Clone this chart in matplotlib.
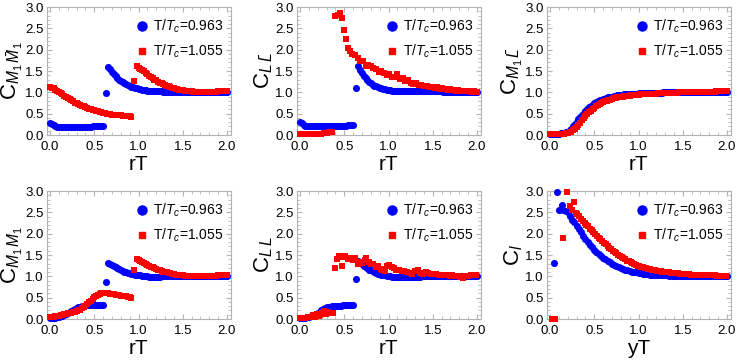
import matplotlib
matplotlib.use("Agg")
import matplotlib.pyplot as plt
from matplotlib.ticker import MultipleLocator
from matplotlib.lines import Line2D

plt.rcParams['font.family'] = ['Liberation Sans', 'DejaVu Sans']
plt.rcParams['mathtext.fontset'] = 'custom'
plt.rcParams['mathtext.rm'] = 'Liberation Sans'
plt.rcParams['mathtext.it'] = 'Liberation Sans:italic'
plt.rcParams['mathtext.bf'] = 'Liberation Sans:bold'

# ---------------- data ----------------
series_labels = ["T/$T_c$=0.963", "T/$T_c$=1.055"]

# shared sample grid of the T/Tc=0.963 data (rT)
rT_blue = [0.00, 0.02, 0.04, 0.06, 0.08, 0.10, 0.12, 0.14, 0.16, 0.18,
           0.20, 0.22, 0.24, 0.26, 0.28, 0.30, 0.32, 0.34, 0.36, 0.38,
           0.40, 0.42, 0.44, 0.46, 0.48, 0.50, 0.52, 0.54, 0.56, 0.58,
           0.60,
           0.63,
           0.66, 0.68, 0.70, 0.72, 0.74, 0.76, 0.78, 0.80, 0.82, 0.84,
           0.86, 0.88, 0.90, 0.92, 0.94, 0.96, 0.98, 1.00, 1.02, 1.04,
           1.06, 1.08, 1.10, 1.12, 1.14, 1.16, 1.18, 1.20, 1.22, 1.24,
           1.26,
           1.28, 1.30, 1.32, 1.34, 1.36, 1.38, 1.40, 1.42, 1.44, 1.46,
           1.48, 1.50, 1.52, 1.54, 1.56, 1.58, 1.60,
           1.62, 1.64, 1.66, 1.68, 1.70, 1.72, 1.74, 1.76, 1.78, 1.80,
           1.82, 1.84, 1.86, 1.88, 1.90, 1.92, 1.94, 1.96, 1.98, 2.00]

# shared sample grid of the dense T/Tc=1.055 data (rT)
rT_red = [0.00, 0.02, 0.04, 0.06, 0.08, 0.10, 0.12, 0.14, 0.16, 0.18,
          0.20, 0.22, 0.24, 0.26, 0.28, 0.30, 0.32, 0.34, 0.36, 0.38,
          0.40, 0.42, 0.44, 0.46, 0.48, 0.50, 0.52, 0.54, 0.56, 0.58,
          0.60, 0.62, 0.64, 0.66, 0.68, 0.70, 0.72, 0.74, 0.76, 0.78,
          0.80, 0.82, 0.84, 0.86, 0.88, 0.90, 0.92,
          0.95,
          0.98, 1.00, 1.02, 1.04, 1.06, 1.08, 1.10, 1.12, 1.14, 1.16,
          1.18, 1.20, 1.22, 1.24, 1.26, 1.28, 1.30, 1.32, 1.34, 1.36,
          1.38, 1.40, 1.42, 1.44, 1.46, 1.48, 1.50, 1.52, 1.54, 1.56,
          1.58, 1.60, 1.62, 1.64, 1.66, 1.68, 1.70, 1.72, 1.74, 1.76,
          1.78, 1.80, 1.82, 1.84, 1.86, 1.88, 1.90, 1.92, 1.94, 1.96,
          1.98, 2.00]

# Panel 1: C_{M1 M1bar}
c_m1m1bar_blue = [0.27, 0.25, 0.23, 0.21, 0.19, 0.18, 0.18, 0.18, 0.18, 0.18,
                  0.18, 0.18, 0.18, 0.18, 0.18, 0.18, 0.18, 0.18, 0.19, 0.19,
                  0.19, 0.19, 0.19, 0.19, 0.20, 0.20, 0.20, 0.20, 0.21, 0.21,
                  0.22,
                  0.98,
                  1.60, 1.54, 1.48, 1.43, 1.38, 1.34, 1.30, 1.27, 1.24, 1.21,
                  1.19, 1.17, 1.15, 1.13, 1.12, 1.10, 1.09, 1.08, 1.07, 1.06,
                  1.05, 1.05, 1.04, 1.04, 1.03, 1.03, 1.03, 1.02, 1.02, 1.02,
                  1.02,
                  1.01, 1.01, 1.01, 1.01, 1.01, 1.01, 1.01, 1.01, 1.01, 1.01,
                  1.01, 1.01, 1.01, 1.01, 1.01, 1.01, 1.01,
                  1.00, 1.00, 1.00, 1.00, 1.00, 1.00, 1.00, 1.00, 1.00, 1.00,
                  1.00, 1.00, 1.00, 1.00, 1.00, 1.00, 1.00, 1.00, 1.00, 1.00]
c_m1m1bar_red = [1.12, 1.11, 1.09, 1.06, 1.04, 1.01, 0.98, 0.95, 0.92, 0.89,
                 0.86, 0.84, 0.81, 0.79, 0.76, 0.74, 0.72, 0.70, 0.68, 0.67,
                 0.65, 0.63, 0.62, 0.60, 0.59, 0.58, 0.57, 0.56, 0.55, 0.53,
                 0.52, 0.51, 0.50, 0.50, 0.49, 0.48, 0.48, 0.47, 0.47, 0.46,
                 0.46, 0.45, 0.45, 0.44, 0.44, 0.44, 0.43,
                 1.27,
                 1.62, 1.58, 1.55, 1.52, 1.49, 1.45, 1.42, 1.39, 1.36, 1.33,
                 1.30, 1.28, 1.25, 1.23, 1.21, 1.19, 1.17, 1.15, 1.14, 1.12,
                 1.11, 1.10, 1.08, 1.07, 1.06, 1.05, 1.05, 1.04, 1.03, 1.03,
                 1.02, 1.02, 1.01, 1.01, 1.01, 1.00, 1.00, 1.00, 1.00, 1.00,
                 1.00, 1.00, 1.01, 1.01, 1.01, 1.01, 1.02, 1.02, 1.02, 1.03,
                 1.03, 1.03]

# Panel 2: C_{L Lbar}
c_llbar_blue = [0.30, 0.27, 0.24, 0.22, 0.21, 0.21, 0.21, 0.21, 0.21, 0.21,
                0.21, 0.21, 0.21, 0.21, 0.21, 0.21, 0.21, 0.21, 0.21, 0.22,
                0.22, 0.22, 0.22, 0.22, 0.22, 0.22, 0.22, 0.23, 0.23, 0.23,
                0.23,
                1.10,
                1.62, 1.53, 1.45, 1.39, 1.33, 1.29, 1.25, 1.21, 1.18, 1.16,
                1.14, 1.12, 1.10, 1.09, 1.08, 1.07, 1.06, 1.05, 1.05, 1.04,
                1.04, 1.03, 1.03, 1.03, 1.03, 1.03, 1.02, 1.02, 1.02, 1.02,
                1.02,
                1.02, 1.02, 1.02, 1.02, 1.02, 1.02, 1.02, 1.02, 1.02, 1.02,
                1.02, 1.02, 1.02, 1.02, 1.02, 1.02, 1.02,
                1.01, 1.01, 1.01, 1.01, 1.01, 1.01, 1.01, 1.01, 1.01, 1.01,
                1.00, 1.00, 1.00, 1.00, 1.00, 1.00, 1.00, 1.00, 1.00, 1.00]
rT_llbar_red = [0.00, 0.03, 0.06, 0.09, 0.12, 0.15, 0.18, 0.21, 0.24, 0.27,
                0.30, 0.33, 0.36,
                0.40, 0.43, 0.45, 0.47, 0.50, 0.52, 0.54, 0.57, 0.59, 0.62,
                0.65, 0.68, 0.71, 0.74, 0.77, 0.80, 0.83, 0.86, 0.89, 0.92,
                0.95, 0.98, 1.01, 1.04, 1.07, 1.10, 1.13, 1.16, 1.19, 1.22,
                1.25, 1.28, 1.31, 1.34, 1.37, 1.40, 1.43, 1.46, 1.49, 1.52,
                1.55, 1.58, 1.61, 1.64, 1.67, 1.70, 1.73, 1.76, 1.79, 1.82,
                1.85, 1.88, 1.91, 1.94, 1.97, 2.00]
c_llbar_red = [0.02, 0.02, 0.02, 0.02, 0.02, 0.02, 0.02, 0.03, 0.03, 0.04,
               0.04, 0.06, 0.07,
               2.80, 2.82, 2.85, 2.74, 2.45, 2.24, 2.05, 1.97, 1.90, 1.87,
               1.80, 1.74, 1.74, 1.62, 1.63, 1.62, 1.58, 1.55, 1.48, 1.50,
               1.45, 1.40, 1.44, 1.37, 1.35, 1.42, 1.31, 1.34, 1.26, 1.30,
               1.22, 1.20, 1.22, 1.17, 1.18, 1.15, 1.14, 1.12, 1.13, 1.10,
               1.12, 1.08, 1.10, 1.07, 1.06, 1.07, 1.05, 1.04, 1.05, 1.03,
               1.04, 1.02, 1.03, 1.01, 1.02, 1.01]

# Panel 3: C_{M1 Lbar}
c_m1lbar_blue = [0.02, 0.02, 0.03, 0.03, 0.03, 0.03, 0.04, 0.04, 0.05, 0.06,
                 0.08, 0.11, 0.15, 0.20, 0.25, 0.31, 0.37, 0.42, 0.47, 0.52,
                 0.57, 0.61, 0.65, 0.68, 0.71, 0.74, 0.77, 0.79, 0.81, 0.83,
                 0.84,
                 0.86,
                 0.88, 0.89, 0.90, 0.91, 0.92, 0.93, 0.93, 0.94, 0.94, 0.95,
                 0.95, 0.96, 0.96, 0.96, 0.97, 0.97, 0.97, 0.98, 0.98, 0.98,
                 0.98, 0.98, 0.99, 0.99, 0.99, 0.99, 0.99, 0.99, 0.99, 0.99,
                 0.99,
                 1.00, 1.00, 1.00, 1.00, 1.00, 1.00, 1.00, 1.00, 1.00, 1.00,
                 1.00, 1.00, 1.00, 1.00, 1.00, 1.00, 1.00,
                 1.00, 1.00, 1.00, 1.00, 1.00, 1.00, 1.00, 1.00, 1.00, 1.00,
                 1.00, 1.00, 1.00, 1.00, 1.00, 1.00, 1.00, 1.00, 1.00, 1.00]
c_m1lbar_red = [0.02, 0.02, 0.02, 0.02, 0.02, 0.03, 0.03, 0.03, 0.03, 0.04,
                0.05, 0.06, 0.08, 0.11, 0.15, 0.19, 0.24, 0.29, 0.34, 0.39,
                0.44, 0.49, 0.53, 0.57, 0.61, 0.64, 0.67, 0.70, 0.72, 0.75,
                0.77, 0.79, 0.80, 0.82, 0.83, 0.85, 0.86, 0.87, 0.88, 0.89,
                0.89, 0.90, 0.91, 0.91, 0.92, 0.92, 0.93,
                0.93,
                0.94, 0.94, 0.95, 0.95, 0.95, 0.96, 0.96, 0.96, 0.97, 0.97,
                0.97, 0.97, 0.98, 0.98, 0.98, 0.98, 0.98, 0.99, 0.99, 0.99,
                0.99, 0.99, 0.99, 0.99, 1.00, 1.00, 1.00, 1.00, 1.00, 1.00,
                1.00, 1.00, 1.00, 1.00, 1.00, 1.01, 1.01, 1.01, 1.01, 1.01,
                1.01, 1.01, 1.01, 1.01, 1.01, 1.02, 1.02, 1.02, 1.02, 1.02,
                1.02, 1.02]

# Panel 4: C_{M1 M1}
c_m1m1_blue = [0.03, 0.03, 0.03, 0.03, 0.04, 0.05, 0.06, 0.07, 0.09, 0.11,
               0.14, 0.16, 0.18, 0.21, 0.23, 0.25, 0.27, 0.29, 0.30, 0.31,
               0.32, 0.32, 0.33, 0.33, 0.33, 0.33, 0.33, 0.33, 0.33, 0.33,
               0.33,
               0.86,
               1.32, 1.30, 1.27, 1.24, 1.22, 1.20, 1.17, 1.15, 1.13, 1.11,
               1.10, 1.08, 1.07, 1.06, 1.05, 1.04, 1.03, 1.02, 1.02, 1.01,
               1.01, 1.00, 1.00, 0.99, 0.99, 0.99, 0.99, 0.99, 0.99, 0.99,
               1.00,
               1.00, 1.00, 1.00, 1.00, 1.00, 1.00, 1.00, 1.00, 1.00, 1.00,
               1.00, 1.00, 1.00, 1.00, 1.00, 1.00, 1.00,
               1.00, 1.00, 1.00, 1.00, 1.00, 1.00, 1.00, 1.00, 1.00, 1.00,
               1.00, 1.00, 1.00, 1.00, 1.00, 1.00, 1.00, 1.00, 1.00, 1.00]
c_m1m1_red = [0.04, 0.05, 0.05, 0.06, 0.07, 0.08, 0.09, 0.10, 0.11, 0.12,
              0.13, 0.14, 0.15, 0.16, 0.17, 0.18, 0.20, 0.22, 0.25, 0.28,
              0.31, 0.35, 0.39, 0.43, 0.47, 0.51, 0.54, 0.57, 0.59, 0.60,
              0.61, 0.61, 0.60, 0.60, 0.59, 0.58, 0.58, 0.57, 0.56, 0.56,
              0.55, 0.54, 0.53, 0.53, 0.52, 0.51, 0.50,
              1.15,
              1.40, 1.38, 1.36, 1.33, 1.31, 1.29, 1.27, 1.25, 1.23, 1.21,
              1.19, 1.17, 1.16, 1.14, 1.13, 1.11, 1.10, 1.09, 1.08, 1.07,
              1.06, 1.05, 1.04, 1.04, 1.03, 1.02, 1.02, 1.01, 1.01, 1.00,
              1.00, 1.00, 1.00, 1.00, 1.00, 1.00, 1.00, 1.00, 1.00, 1.00,
              1.00, 1.00, 1.01, 1.01, 1.01, 1.01, 1.02, 1.02, 1.02, 1.03,
              1.03, 1.03]

# Panel 5: C_{L L}
c_ll_blue = [0.02, 0.02, 0.02, 0.03, 0.04, 0.05, 0.06, 0.07, 0.09, 0.11,
             0.14, 0.17, 0.20, 0.23, 0.25, 0.27, 0.28, 0.29, 0.30, 0.30,
             0.31, 0.31, 0.31, 0.31, 0.32, 0.32, 0.32, 0.32, 0.32, 0.33,
             0.33,
             0.93,
             1.35, 1.32, 1.28, 1.25, 1.22, 1.19, 1.16, 1.14, 1.12, 1.10,
             1.08, 1.06, 1.05, 1.04, 1.03, 1.02, 1.01, 1.00, 1.00, 0.99,
             0.99, 0.98, 0.98, 0.98, 0.98, 0.98, 0.98, 0.99, 0.99, 0.99,
             0.99,
             0.99, 0.99, 0.99, 0.99, 0.99, 1.00, 1.00, 1.00, 1.00, 1.00,
             1.00, 1.00, 1.00, 1.00, 1.00, 1.00, 1.00,
             1.00, 1.00, 1.00, 1.00, 1.00, 1.00, 1.00, 1.00, 1.00, 1.00,
             1.00, 1.00, 1.00, 1.00, 1.00, 1.00, 1.00, 1.00, 1.00, 1.00]
rT_ll_red = [0.00, 0.03, 0.06, 0.09, 0.12, 0.15, 0.17, 0.19, 0.21, 0.23,
             0.25, 0.27, 0.29, 0.31, 0.33, 0.35, 0.37,
             0.39, 0.42, 0.44, 0.47, 0.49, 0.51, 0.54, 0.57, 0.60, 0.62,
             0.65, 0.68, 0.70, 0.73, 0.75, 0.78, 0.80, 0.83, 0.86, 0.88,
             0.91, 0.93, 0.96, 0.98, 1.01, 1.04, 1.06, 1.09, 1.12, 1.15,
             1.18, 1.21, 1.24, 1.27, 1.30, 1.33, 1.36, 1.39, 1.42, 1.45,
             1.48, 1.51, 1.54, 1.57, 1.60, 1.63, 1.66, 1.69, 1.72, 1.75,
             1.78, 1.81, 1.84, 1.87, 1.90, 1.93, 1.96, 1.99]
c_ll_red = [0.02, 0.02, 0.03, 0.04, 0.05, 0.10, 0.05, 0.12, 0.08, 0.10,
            0.15, 0.18, 0.12, 0.16, 0.13, 0.14, 0.15,
            1.20, 1.40, 1.48, 1.25, 1.45, 1.48, 1.40, 1.42, 1.38, 1.42,
            1.30, 1.33, 1.32, 1.38, 1.42, 1.33, 1.30, 1.28, 1.22, 1.24,
            1.18, 1.15, 1.12, 1.25, 1.27, 1.22, 1.20, 1.15, 1.14, 1.12,
            1.12, 1.10, 1.08, 1.06, 1.12, 1.16, 1.08, 1.05, 1.10, 1.08,
            1.06, 1.05, 1.06, 1.04, 1.02, 1.03, 1.03, 1.01, 1.02, 1.00,
            1.01, 0.99, 0.96, 1.00, 1.01, 1.02, 1.04, 1.03]

# Panel 6: C_l vs yT
yT_blue = [0.05, 0.08, 0.10, 0.13, 0.15, 0.175, 0.20, 0.225, 0.25, 0.275,
           0.30, 0.325, 0.35, 0.375, 0.40, 0.425, 0.45, 0.475, 0.50, 0.525,
           0.55, 0.575, 0.60, 0.625, 0.65, 0.675, 0.70, 0.725, 0.75, 0.775,
           0.80, 0.825, 0.85, 0.875, 0.90, 0.925, 0.95, 0.975, 1.00, 1.025,
           1.05, 1.075, 1.10, 1.125, 1.15, 1.175, 1.20, 1.225, 1.25, 1.275,
           1.30, 1.325, 1.35, 1.375, 1.40, 1.425, 1.45, 1.475, 1.50, 1.525,
           1.55, 1.575, 1.60, 1.625, 1.65, 1.675, 1.70, 1.725, 1.75, 1.775,
           1.80, 1.825, 1.85, 1.875, 1.90, 1.925, 1.95, 1.975, 2.00]
cl_blue = [1.32, 2.97, 2.55, 2.68, 2.55, 2.52, 2.50, 2.42, 2.33, 2.28,
           2.18, 2.12, 2.03, 1.95, 1.88, 1.81, 1.74, 1.68, 1.62, 1.57,
           1.52, 1.48, 1.43, 1.40, 1.36, 1.33, 1.30, 1.27, 1.24, 1.22,
           1.20, 1.18, 1.16, 1.14, 1.13, 1.11, 1.10, 1.09, 1.08, 1.07,
           1.06, 1.05, 1.05, 1.04, 1.04, 1.03, 1.03, 1.03, 1.02, 1.02,
           1.02, 1.02, 1.01, 1.01, 1.01, 1.01, 1.01, 1.01, 1.01, 1.01,
           1.01, 1.01, 1.01, 1.00, 1.00, 1.00, 1.00, 1.00, 1.00, 1.00,
           1.00, 1.00, 1.00, 1.00, 1.00, 1.00, 1.00, 1.00, 1.00]
yT_red = [0.02, 0.04, 0.06, 0.15, 0.19, 0.22, 0.25, 0.27, 0.29, 0.31,
          0.33, 0.35, 0.37, 0.39, 0.41, 0.43, 0.45, 0.47, 0.49, 0.51,
          0.53, 0.55, 0.57, 0.59, 0.61, 0.63, 0.65, 0.67, 0.69, 0.71,
          0.73, 0.75, 0.77, 0.79, 0.81, 0.83, 0.85, 0.87, 0.89, 0.91,
          0.93, 0.95, 0.97, 0.99, 1.01, 1.03, 1.05, 1.07, 1.09, 1.11,
          1.13, 1.15, 1.17, 1.19, 1.21, 1.23, 1.25, 1.27, 1.29, 1.31,
          1.33, 1.35, 1.37, 1.39, 1.41, 1.43, 1.45, 1.47, 1.49, 1.51,
          1.53, 1.55, 1.57, 1.59, 1.61, 1.63, 1.65, 1.67, 1.69, 1.71,
          1.73, 1.75, 1.77, 1.79, 1.81, 1.83, 1.85, 1.87, 1.89, 1.91,
          1.93, 1.95, 1.97, 1.99]
cl_red = [0.00, 0.00, 0.00, 1.90, 2.97, 2.65, 2.55, 2.75, 2.48, 2.47,
          2.42, 2.35, 2.30, 2.25, 2.21, 2.17, 2.12, 2.08, 2.03, 1.99,
          1.95, 1.91, 1.87, 1.83, 1.79, 1.75, 1.71, 1.67, 1.64, 1.60,
          1.57, 1.54, 1.51, 1.48, 1.45, 1.42, 1.40, 1.37, 1.35, 1.33,
          1.31, 1.29, 1.27, 1.25, 1.24, 1.22, 1.21, 1.20, 1.19, 1.18,
          1.17, 1.16, 1.15, 1.14, 1.13, 1.12, 1.12, 1.11, 1.10, 1.10,
          1.09, 1.09, 1.08, 1.08, 1.07, 1.07, 1.07, 1.06, 1.06, 1.06,
          1.05, 1.05, 1.05, 1.04, 1.04, 1.04, 1.04, 1.03, 1.03, 1.03,
          1.03, 1.03, 1.02, 1.02, 1.02, 1.02, 1.02, 1.02, 1.01, 1.01,
          1.01, 1.01, 1.01, 1.01]

panels = [
    (r"$\mathrm{C}_{M_1\,\bar{M}_1}$", "rT", rT_blue, c_m1m1bar_blue, rT_red, c_m1m1bar_red),
    (r"$\mathrm{C}_{L\,\bar{L}}$", "rT", rT_blue, c_llbar_blue, rT_llbar_red, c_llbar_red),
    (r"$\mathrm{C}_{M_1\,\bar{L}}$", "rT", rT_blue, c_m1lbar_blue, rT_red, c_m1lbar_red),
    (r"$\mathrm{C}_{M_1\,M_1}$", "rT", rT_blue, c_m1m1_blue, rT_red, c_m1m1_red),
    (r"$\mathrm{C}_{L\,L}$", "rT", rT_blue, c_ll_blue, rT_ll_red, c_ll_red),
    (r"$\mathrm{C}_l$", "yT", yT_blue, cl_blue, yT_red, cl_red),
]

# ---------------- figure ----------------
W, H = 747, 361
fig = plt.figure(figsize=(W / 100, H / 100), dpi=100)

col_left = [46.5, 296.5, 546.5]
row_top = [7.0, 191.0]
ax_w, ax_h = 184.0, 128.0
frame_col = "#b4b4b4"

for i, (ylab, xlab, xb, yb, xr, yr) in enumerate(panels):
    r, c = divmod(i, 3)
    ax = fig.add_axes([col_left[c] / W, 1 - (row_top[r] + ax_h) / H, ax_w / W, ax_h / H])
    ax.scatter(xb, yb, s=26, marker='o', color=(0, 0, 1), linewidths=0, clip_on=False, zorder=3)
    ax.scatter(xr, yr, s=14, marker='s', color=(1, 0, 0), linewidths=0, clip_on=False, zorder=4)
    ax.set_xlim(-0.04, 2.04)
    ax.set_ylim(0, 3)
    ax.xaxis.set_major_locator(MultipleLocator(0.5))
    ax.xaxis.set_minor_locator(MultipleLocator(0.1))
    ax.yaxis.set_major_locator(MultipleLocator(0.5))
    ax.yaxis.set_minor_locator(MultipleLocator(0.1))
    ax.xaxis.set_major_formatter(plt.FormatStrFormatter('%.1f'))
    ax.yaxis.set_major_formatter(plt.FormatStrFormatter('%.1f'))
    ax.tick_params(which='both', direction='in', color=frame_col, labelsize=9.5,
                   labelcolor='black', top=True, right=True)
    ax.tick_params(axis='x', which='both', pad=4)
    ax.tick_params(axis='y', which='both', pad=2)
    ax.tick_params(which='major', length=3.5, width=0.8)
    ax.tick_params(which='minor', length=2, width=0.6)
    for sp in ax.spines.values():
        sp.set_color(frame_col)
        sp.set_linewidth(0.8)
    ax.set_xlabel(xlab, fontsize=15, labelpad=2)
    ax.set_ylabel(ylab, fontsize=16, labelpad=0)

    handles = [Line2D([], [], marker='o', color=(0, 0, 1), linestyle='none', markersize=6.5),
               Line2D([], [], marker='s', color=(1, 0, 0), linestyle='none', markersize=4)]
    ax.legend(handles, series_labels, loc='upper left', bbox_to_anchor=(0.46, 0.96),
              frameon=False, fontsize=10, handlelength=0.8, handletextpad=0.4,
              labelspacing=0.55, borderaxespad=0)

fig.savefig("out.png", dpi=100)
